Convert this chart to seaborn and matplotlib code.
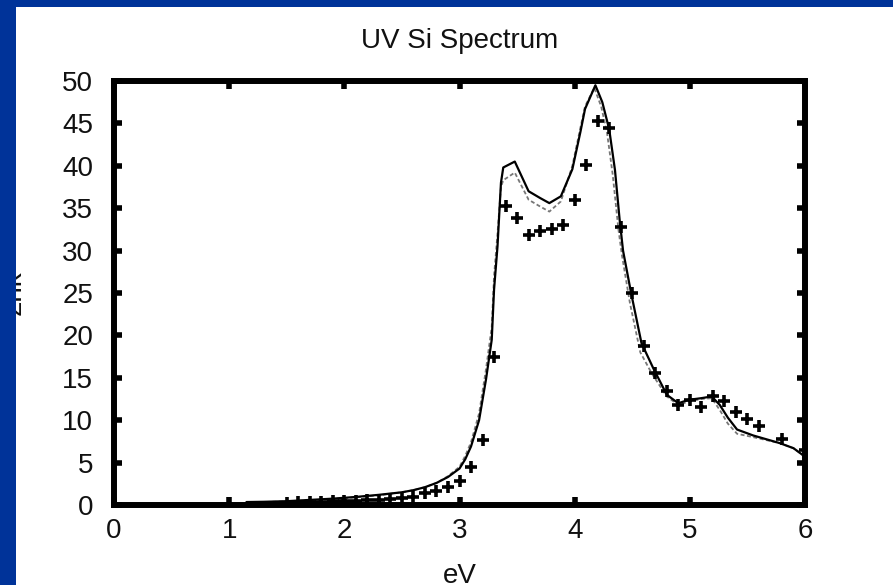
import matplotlib
matplotlib.use("Agg")
import matplotlib.pyplot as plt
from matplotlib.patches import Rectangle
import seaborn as sns

# ---- data ----
theory_ev = [1.15, 1.3, 1.5, 1.7, 1.9, 2.1, 2.3, 2.5, 2.6, 2.7, 2.8, 2.9, 3.0, 3.05, 3.1,
             3.17, 3.23, 3.28, 3.30, 3.33, 3.36, 3.38, 3.48, 3.60, 3.70, 3.78, 3.88, 3.98,
             4.05, 4.09, 4.18, 4.24, 4.30, 4.35, 4.39, 4.42, 4.49, 4.58, 4.68, 4.80, 4.90,
             4.99, 5.10, 5.19, 5.26, 5.33, 5.41, 5.55, 5.78, 5.90, 6.0]
theory_eps = [0.35, 0.38, 0.45, 0.6, 0.75, 0.95, 1.2, 1.5, 1.75, 2.1, 2.6, 3.3, 4.3, 5.4, 6.9,
              10.0, 14.8, 19.5, 25.4, 30.5, 38.0, 39.8, 40.5, 37.0, 36.2, 35.6, 36.4, 39.6,
              44.0, 46.7, 49.5, 47.5, 44.3, 39.5, 33.7, 30.0, 25.0, 19.1, 16.2, 13.0, 12.0,
              12.4, 12.6, 12.8, 11.8, 10.3, 8.9, 8.2, 7.3, 6.7, 5.7]

model_ev = [1.15, 1.3, 1.5, 1.7, 1.9, 2.1, 2.3, 2.5, 2.6, 2.7, 2.8, 2.9, 3.0, 3.05, 3.1,
            3.17, 3.23, 3.28, 3.30, 3.33, 3.36, 3.38, 3.48, 3.60, 3.70, 3.78, 3.88, 3.98,
            4.05, 4.09, 4.17, 4.23, 4.28, 4.33, 4.38, 4.41, 4.48, 4.57, 4.67, 4.80, 4.90,
            4.99, 5.10, 5.19, 5.26, 5.33, 5.41, 5.55, 5.78, 5.90, 6.0]
model_eps = [0.3, 0.35, 0.42, 0.55, 0.7, 0.9, 1.15, 1.5, 1.75, 2.1, 2.6, 3.4, 4.5, 5.8, 7.4,
             10.8, 16.0, 21.0, 27.0, 32.0, 37.5, 38.3, 39.2, 36.0, 35.2, 34.6, 35.8, 40.0,
             44.5, 47.0, 49.2, 47.0, 44.0, 39.0, 32.5, 29.5, 23.8, 18.0, 15.5, 12.8, 11.8,
             12.2, 12.5, 12.6, 11.2, 9.6, 8.4, 8.0, 7.3, 6.7, 5.7]

exp_ev = [1.5, 1.6, 1.7, 1.8, 1.9, 2.0, 2.1, 2.2, 2.3, 2.4, 2.5, 2.6, 2.7, 2.8, 2.9, 3.0,
          3.1, 3.2, 3.3, 3.4, 3.5, 3.6, 3.7, 3.8, 3.9, 4.0, 4.1, 4.2, 4.3, 4.4, 4.5, 4.6,
          4.7, 4.8, 4.9, 5.0, 5.1, 5.2, 5.3, 5.4, 5.5, 5.6, 5.8, 6.0]
exp_eps = [0.2, 0.3, 0.35, 0.4, 0.45, 0.5, 0.5, 0.55, 0.6, 0.7, 0.8, 1.0, 1.4, 1.7, 2.1, 2.8,
           4.5, 7.7, 17.5, 35.3, 33.8, 31.8, 32.3, 32.6, 33.0, 36.0, 40.1, 45.3, 44.4, 32.8,
           25.0, 18.8, 15.6, 13.5, 11.8, 12.4, 11.6, 12.8, 12.3, 11.0, 10.2, 9.3, 7.8, 6.5]

x_ticks = [0, 1, 2, 3, 4, 5, 6]
y_ticks = [0, 5, 10, 15, 20, 25, 30, 35, 40, 45, 50]

title_text = "UV Si Spectrum"
x_label = "eV"
y_label = "2nk"

# ---- style ----
sns.set_style("ticks")
plt.rcParams["font.family"] = ["Liberation Sans", "DejaVu Sans"]

W, H = 893, 585
fig = plt.figure(figsize=(W / 100, H / 100), dpi=100, facecolor="white")
ax = fig.add_axes([114 / W, (H - 505) / H, (805 - 114) / W, (505 - 81) / H])
ax.set_facecolor("white")

sns.lineplot(x=model_ev, y=model_eps, ax=ax, color="#777777", linewidth=1.3,
             linestyle=(0, (2.2, 1.4)), zorder=2)
sns.lineplot(x=theory_ev, y=theory_eps, ax=ax, color="black", linewidth=1.6, zorder=3)
sns.scatterplot(x=exp_ev, y=exp_eps, ax=ax, marker="+", s=70, color="black",
                linewidth=2.6, zorder=4)

ax.set_xlim(0, 6)
ax.set_ylim(0, 50)
ax.set_xticks(x_ticks)
ax.set_yticks(y_ticks)
ax.set_xticklabels([str(t) for t in x_ticks])
ax.set_yticklabels([str(t) for t in y_ticks])
ax.set_xlabel("")
ax.set_ylabel("")

for sp in ax.spines.values():
    sp.set_visible(True)
    sp.set_linewidth(4.3)
    sp.set_color("black")

ax.tick_params(axis="both", which="major", direction="in", length=6, width=4,
               color="black", labelsize=20, labelcolor="#111111",
               top=True, right=True)
ax.tick_params(axis="x", pad=9)
ax.tick_params(axis="y", pad=15)

fig.text(459.5 / W, (H - 48) / H, title_text, ha="center", va="baseline",
         fontsize=20, color="#111111")
fig.text(460 / W, (H - 583) / H, x_label, ha="center", va="baseline",
         fontsize=20, color="#111111")
fig.text(27 / W, (H - 293) / H, y_label, ha="right", va="center", rotation=90,
         fontsize=20, color="#111111")

# blue slide border (top and left)
blue = "#003399"
fig.add_artist(Rectangle((0, 0), 16 / W, 1, transform=fig.transFigure,
                         facecolor=blue, edgecolor="none", zorder=20))
fig.add_artist(Rectangle((0, 1 - 7 / H), 1, 7 / H, transform=fig.transFigure,
                         facecolor=blue, edgecolor="none", zorder=20))

fig.savefig("out.png", dpi=100, facecolor="white")
